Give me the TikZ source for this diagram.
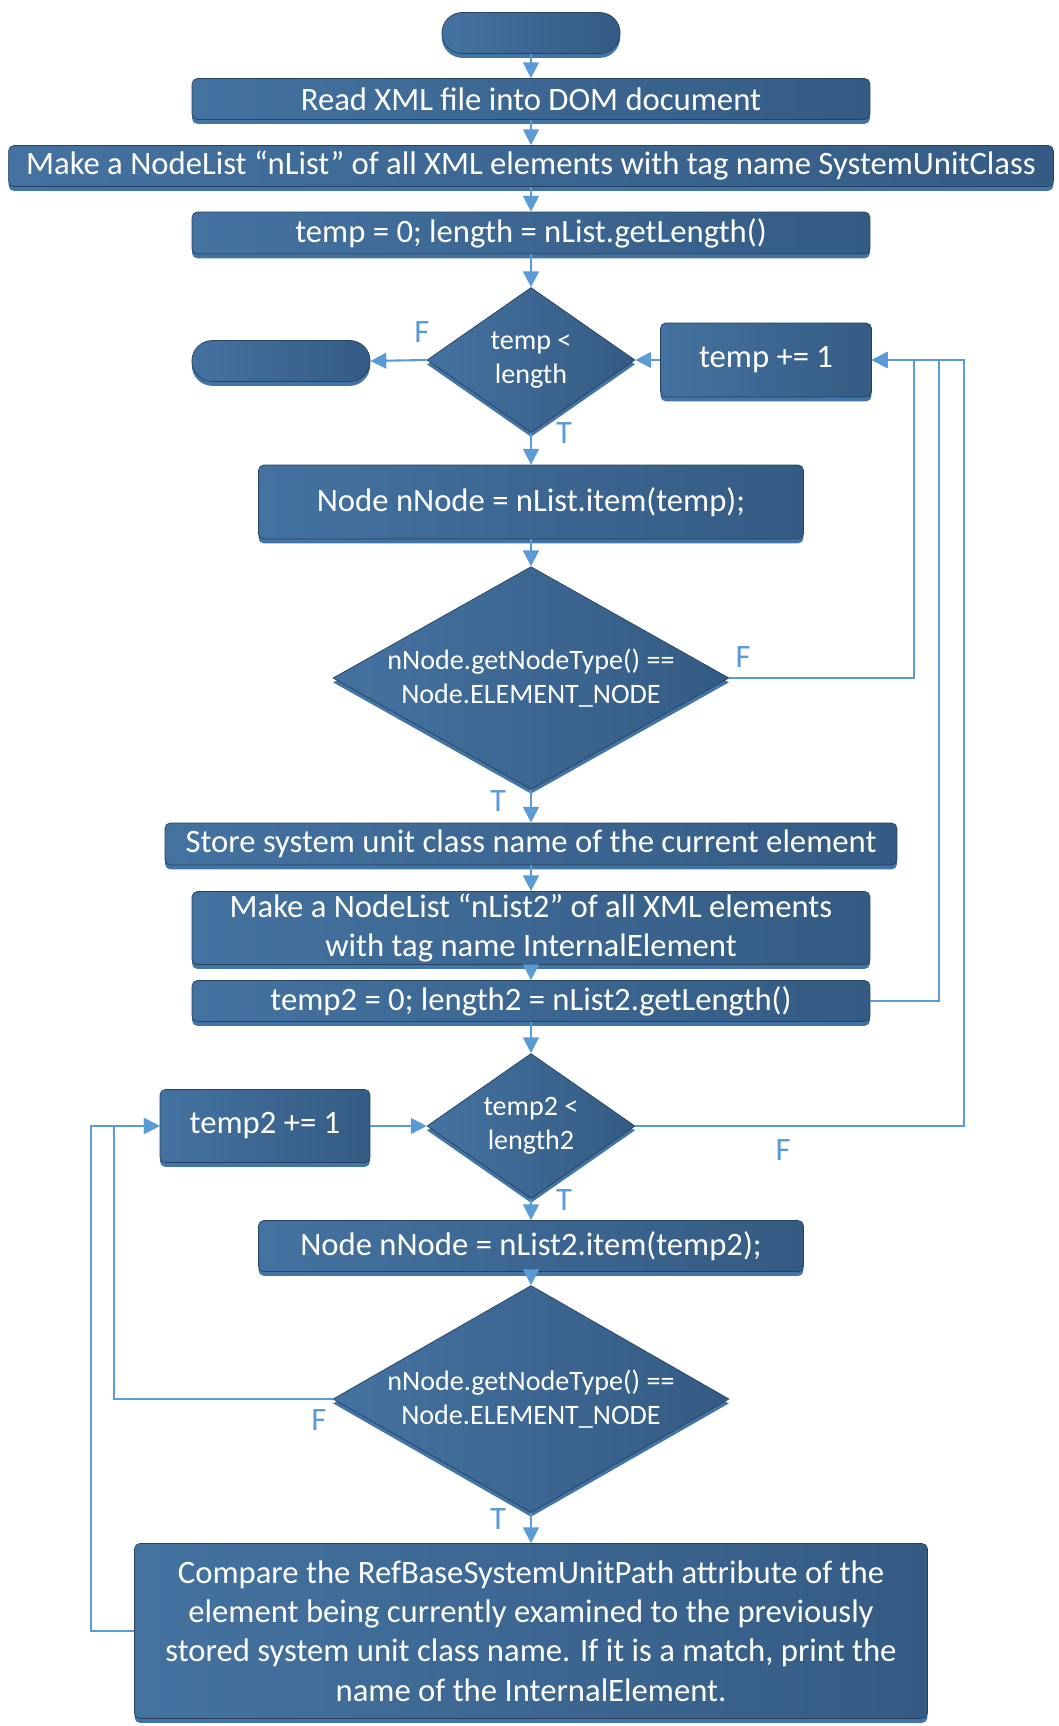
\documentclass[tikz,border=0pt]{standalone}
\usepackage{fontspec}
\setmainfont{Carlito}
\usetikzlibrary{arrows.meta, shapes.geometric, shapes.misc, shadows}
\definecolor{boxlight}{RGB}{68,114,160}
\definecolor{boxdark}{RGB}{52,91,131}
\definecolor{boxedge}{RGB}{38,66,96}
\definecolor{bevelblue}{RGB}{66,116,166}
\definecolor{linkblue}{RGB}{91,155,213}
\newcommand{\boxfont}{\fontsize{18.6}{22.4}\selectfont}
\newcommand{\condfont}{\fontsize{16}{19.5}\selectfont}
\tikzset{>={Triangle[length=9pt,width=9pt]}}
\tikzset{
  bevel/.style={drop shadow={shadow xshift=0pt, shadow yshift=-2.5pt, fill=bevelblue, opacity=1}},
  stepbox/.style={bevel, draw=boxedge, left color=boxlight, right color=boxdark, rounded corners=3pt, text=white, font=\boxfont, align=center, inner sep=0pt},
  termbox/.style={bevel, rounded rectangle, draw=boxedge, left color=boxlight, right color=boxdark, minimum width=3.8cm, minimum height=0.82cm},
  condbox/.style={bevel, diamond, draw=boxedge, left color=boxlight, right color=boxdark, text=white, font=\condfont, align=center, inner sep=0pt},
  flow/.style={linkblue, line width=1.2pt},
  flag/.style={text=linkblue, font=\boxfont, inner sep=1pt}
}

\begin{document}
\begin{tikzpicture}[x=0.02cm, y=-0.02cm]
	\useasboundingbox (0,0) rectangle (1058,1726);
	% outer loop over nList
	\node [termbox] (start) at (531,33) {};
	\node [stepbox, minimum width=13.56cm, minimum height=0.82cm] (read) at (531,99) {Read XML file into DOM document};
	\node [stepbox, minimum width=20.9cm, minimum height=0.82cm] (mklist) at (531,166) {Make a NodeList “nList” of all XML elements with tag name SystemUnitClass};
	\node [stepbox, minimum width=13.56cm, minimum height=0.84cm] (init) at (531,233) {temp = 0; length = nList.getLength()};
	\node [condbox, aspect=1.4, minimum width=4.16cm, minimum height=2.9cm] (cond) at (531,360) {temp <\\length};
	\node [termbox] (stop) at (281,361) {};
	\node [stepbox, minimum width=4.22cm, minimum height=1.48cm] (incr) at (766,360) {temp += 1};
	\node [stepbox, minimum width=10.9cm, minimum height=1.48cm] (getnode) at (531,502) {Node nNode = nList.item(temp);};
	\node [condbox, aspect=1.75, minimum width=7.92cm, minimum height=4.44cm] (elem) at (531,678) {nNode.getNodeType() ==\\Node.ELEMENT\_NODE};
	\node [stepbox, minimum width=14.64cm, minimum height=0.84cm] (store) at (531,844) {Store system unit class name of the current element};
	\node [stepbox, minimum width=13.56cm, minimum height=1.46cm] (mklist2) at (531,928) {Make a NodeList “nList2” of all XML elements\\with tag name InternalElement};
	\node [stepbox, minimum width=13.56cm, minimum height=0.82cm] (init2) at (531,1001) {temp2 = 0; length2 = nList2.getLength()};
	% inner loop over nList2
	\node [condbox, aspect=1.4, minimum width=4.16cm, minimum height=2.9cm] (cond2) at (531,1126) {temp2 <\\length2};
	\node [stepbox, minimum width=4.2cm, minimum height=1.46cm] (incr2) at (265,1126) {temp2 += 1};
	\node [stepbox, minimum width=10.9cm, minimum height=1.02cm] (getnode2) at (531,1246) {Node nNode = nList2.item(temp2);};
	\node [condbox, aspect=1.75, minimum width=7.92cm, minimum height=4.54cm] (elem2) at (531,1399) {nNode.getNodeType() ==\\Node.ELEMENT\_NODE};
	\node [stepbox, minimum width=15.86cm, minimum height=3.5cm] (compare) at (531,1631) {Compare the RefBaseSystemUnitPath attribute of the\\element being currently examined to the previously\\stored system unit class name. If it is a match, print the\\name of the InternalElement.};

	\coordinate (rA) at (914,360);
	\coordinate (rB) at (939,360);
	\coordinate (rC) at (964,360);
	\coordinate (lA) at (114,1126);
	\coordinate (lB) at (91,1126);

	\draw [flow,->] (start) -- (read);
	\draw [flow,->] (read) -- (mklist);
	\draw [flow,->] (mklist) -- (init);
	\draw [flow,->] (init) -- (cond);
	\draw [flow,->] (cond.west) -- (stop.east);
	\draw [flow,->] (incr.west) -- (cond.east);
	\draw [flow,->] (cond) -- (getnode);
	\draw [flow,->] (getnode) -- (elem);
	\draw [flow,->] (elem) -- (store);
	\draw [flow,->] (store) -- (mklist2);
	\draw [flow,->] (mklist2) -- (init2);
	\draw [flow,->] (init2) -- (cond2);
	\draw [flow,->] (incr2) -- (cond2);
	\draw [flow,->] (cond2) -- (getnode2);
	\draw [flow,->] (getnode2) -- (elem2);
	\draw [flow,->] (elem2) -- (compare);
	% back to temp += 1
	\draw [flow,->] (elem.east) -| (rA) -- (incr.east);
	\draw [flow,->] (init2.east) -| (rB) -- (incr.east);
	\draw [flow,->] (cond2.east) -| (rC) -- (incr.east);
	% back to temp2 += 1
	\draw [flow,->] (elem2.west) -| (lA) -- (incr2.west);
	\draw [flow,->] (compare.west) -| (lB) -- (incr2.west);

	\node [flag] (f1) at (422,332) {F};
	\node [flag, fill=white] (t1) at (564,433) {T};
	\node [flag] (f2) at (743,657) {F};
	\node [flag, fill=white] (t2) at (498,801) {T};
	\node [flag] (f3) at (783,1150) {F};
	\node [flag, fill=white] (t3) at (564,1200) {T};
	\node [flag] (f4) at (319,1420) {F};
	\node [flag, fill=white] (t4) at (498,1519) {T};
\end{tikzpicture}
\end{document}
